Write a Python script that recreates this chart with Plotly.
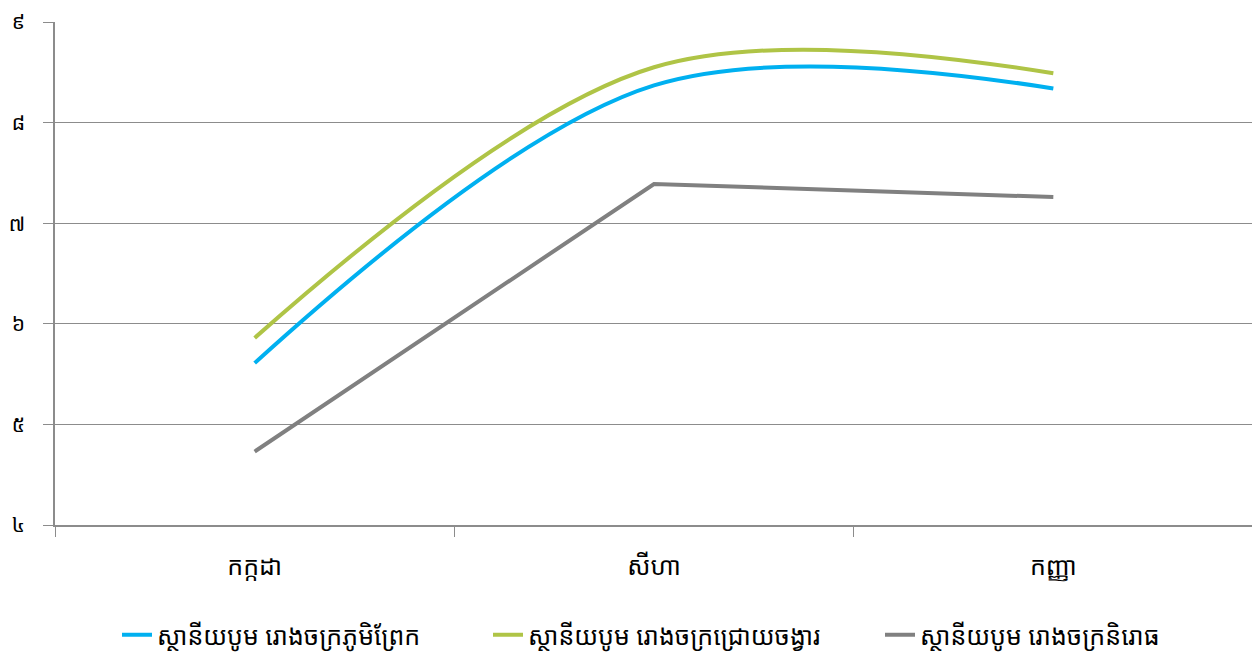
import plotly.graph_objects as go

categories = ["កក្កដា", "សីហា", "កញ្ញា"]
series_names = ["ស្ថានីយបូម រោងចក្រភូមិព្រែក", "ស្ថានីយបូម រោងចក្រជ្រោយចង្វារ", "ស្ថានីយបូម រោងចក្រនិរោធ"]
blue_vals = [5.61, 8.37, 8.34]
green_vals = [5.86, 8.55, 8.49]
gray_vals = [4.73, 7.39, 7.26]
y_tickvals = [4, 5, 6, 7, 8, 9]
y_ticktext = ["៤", "៥", "៦", "៧", "៨", "៩"]

colors = ["#00b0f0", "#afc446", "#808080"]
shapes = ["spline", "spline", "linear"]
legend_ids = ["legend", "legend2", "legend3"]

W, H = 1252, 645
fig = go.Figure()
for name, vals, c, s, lg in zip(series_names, [blue_vals, green_vals, gray_vals], colors, shapes, legend_ids):
    fig.add_trace(go.Scatter(
        x=categories, y=vals, name=name, mode="lines", legend=lg,
        line=dict(color=c, width=4, shape=s, smoothing=1.0),
    ))

font_family = "Noto Sans Khmer, Khmer OS, DejaVu Sans, sans-serif"
text_starts = [149, 520, 912]  # legend text left positions (px, container)
legend_common = dict(orientation="h", xref="container", yref="container",
                     xanchor="left", yanchor="middle", y=1 - 627 / H,
                     font=dict(size=25), bgcolor="rgba(0,0,0,0)")
legends = {}
for lg, ts in zip(legend_ids, text_starts):
    legends[lg] = dict(legend_common, x=(ts - 40) / W)

fig.update_layout(
    width=W, height=H,
    margin=dict(l=47, r=7, t=14, b=128),
    plot_bgcolor="white", paper_bgcolor="white",
    font=dict(family=font_family, size=25, color="#000000"),
    showlegend=True,
    **legends,
)
fig.update_xaxes(
    type="category", range=[-0.5, 2.5], automargin=False,
    showgrid=False, showline=True, linecolor="#8c8c8c", linewidth=1.5,
    ticks="outside", tickson="boundaries", ticklen=10, tickcolor="#8c8c8c",
    tickfont=dict(size=25), ticklabelstandoff=18,
)
fig.update_yaxes(
    range=[4, 9], tickvals=y_tickvals, ticktext=y_ticktext, automargin=False,
    showgrid=True, gridcolor="#8c8c8c", gridwidth=1.3,
    showline=True, linecolor="#8c8c8c", linewidth=1.5,
    ticks="outside", ticklen=10, tickcolor="#8c8c8c",
    tickfont=dict(size=21), ticklabelstandoff=14, zeroline=False,
    ticklabeloverflow="allow",
)
fig.write_html("out.html")
